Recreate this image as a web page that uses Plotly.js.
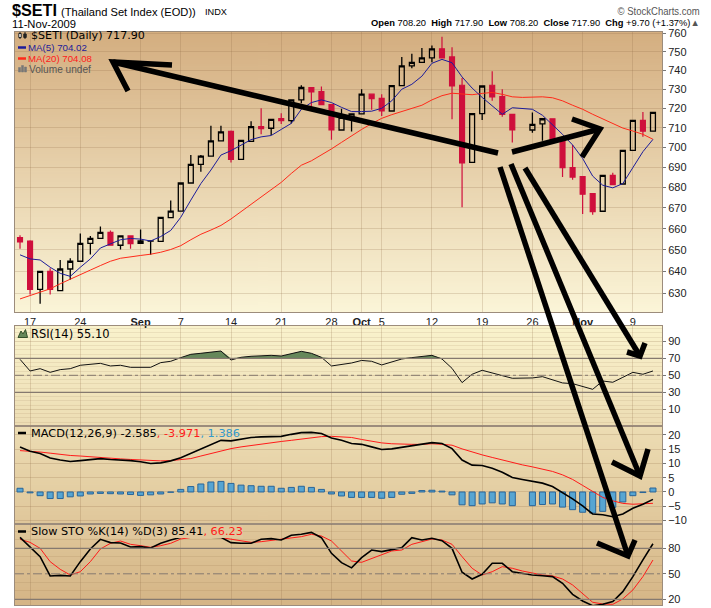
<!DOCTYPE html>
<html><head><meta charset="utf-8">
<script src="https://cdn.plot.ly/plotly-3.0.1.min.js"></script>
<style>html,body{margin:0;padding:0;background:#fff}#chart{width:711px;height:608px}</style>
</head><body><div id="chart"></div>
<script>
// ---------------- DATA ----------------
const dates = ["2009-08-14","2009-08-17","2009-08-18","2009-08-19","2009-08-20","2009-08-21","2009-08-24","2009-08-25","2009-08-26","2009-08-27","2009-08-28","2009-08-31","2009-09-01","2009-09-02","2009-09-03","2009-09-04","2009-09-07","2009-09-08","2009-09-09","2009-09-10","2009-09-11","2009-09-14","2009-09-15","2009-09-16","2009-09-17","2009-09-18","2009-09-21","2009-09-22","2009-09-23","2009-09-24","2009-09-25","2009-09-28","2009-09-29","2009-09-30","2009-10-01","2009-10-02","2009-10-05","2009-10-06","2009-10-07","2009-10-08","2009-10-09","2009-10-12","2009-10-13","2009-10-14","2009-10-15","2009-10-16","2009-10-19","2009-10-20","2009-10-21","2009-10-22","2009-10-23","2009-10-26","2009-10-27","2009-10-28","2009-10-29","2009-10-30","2009-11-02","2009-11-03","2009-11-04","2009-11-05","2009-11-06","2009-11-09","2009-11-10","2009-11-11"];

const open  = [655.8,654.2,631.7,640.0,631.2,641.1,644.7,653.1,655.4,658.3,652.2,656.6,653.1,654.2,654.0,665.3,668.5,682.2,691.4,695.6,703.3,708.1,693.9,703.0,710.5,709.7,714.7,713.6,724.4,730.9,728.8,721.9,708.8,715.3,717.1,727.4,725.2,718.6,731.9,742.4,744.3,746.7,751.6,747.2,732.1,692.4,717.2,732.1,726.1,716.9,null,708.8,712.0,714.6,703.9,689.8,685.4,677.0,668.4,686.0,681.7,698.5,713.8,708.2];
const high  = [656.9,654.5,640.2,641.4,645.3,646.1,657.8,656.6,661.1,659.2,656.6,656.6,659.7,654.3,665.5,673.6,682.2,696.1,696.1,711.0,711.0,708.6,703.5,713.3,720.0,714.3,717.4,724.4,732.1,730.9,731.4,721.9,719.8,717.1,730.0,727.4,727.4,731.9,747.2,749.0,752.1,753.4,758.2,752.5,736.0,717.2,731.7,739.5,730.0,716.9,null,717.8,714.6,714.6,703.9,701.2,685.4,677.0,686.0,687.3,698.5,713.8,718.1,717.9];
const low   = [650.5,629.4,625.2,629.4,631.2,636.2,644.7,647.8,655.1,652.2,650.2,650.5,653.1,647.7,654.0,665.0,668.5,682.2,687.8,695.6,703.3,692.4,693.9,703.0,706.7,706.2,711.9,712.2,722.6,720.9,721.9,703.9,708.8,708.1,717.1,719.3,716.0,718.6,731.9,741.2,744.3,744.3,746.7,714.3,670.3,692.4,713.9,723.9,715.6,702.5,null,707.4,703.3,703.9,685.1,683.8,667.1,666.7,668.4,681.4,681.7,698.5,705.4,708.2];
const close = [653.8,631.7,640.0,631.7,641.1,644.7,653.1,655.4,658.3,652.2,656.6,652.9,654.2,654.3,665.5,668.5,682.2,691.4,695.6,703.3,707.9,693.9,703.5,710.5,709.5,714.3,713.6,724.4,730.9,728.6,721.9,708.8,715.3,717.1,727.4,725.0,718.6,731.9,742.4,744.3,746.7,751.6,746.7,731.7,692.2,717.2,731.7,726.0,716.9,708.8,null,711.7,714.6,703.9,689.8,685.1,676.7,668.2,686.0,681.4,698.5,713.8,708.2,717.9];

const ma5  = [647.7,645.8,645.3,641.9,639.1,637.7,641.9,645.8,650.9,652.8,654.8,655.4,655.1,654.2,656.3,659.2,665.5,673.8,681.9,688.6,696.1,698.3,701.0,703.9,705.3,706.0,709.1,712.2,719.5,723.0,724.4,723.0,720.5,718.3,718.3,718.5,720.0,723.9,730.0,732.6,736.9,743.8,745.9,744.1,736.5,730.6,725.7,721.2,716.9,720.3,720.0,719.5,716.4,711.7,706.6,701.2,694.4,685.6,681.1,679.8,681.9,689.8,697.8,704.02];
const ma20 = [627.4,628.9,630.5,632.0,634.3,636.5,638.5,640.6,642.7,644.7,646.1,646.9,647.4,648.0,648.9,650.2,652.0,654.8,657.4,659.4,661.6,664.7,668.2,671.6,675.4,678.7,682.5,686.9,691.0,693.2,696.1,699.2,702.5,706.0,709.1,712.1,714.8,716.7,718.4,720.0,721.6,724.4,726.6,727.9,727.4,727.1,727.8,728.3,727.3,726.0,725.7,725.7,726.0,725.5,723.9,721.6,719.5,716.9,714.6,712.2,709.8,708.3,706.6,704.08];

const rsi = [68.8,55.1,57.8,53.5,56.7,57.8,61.8,62.9,64.1,61.0,61.8,59.4,59.4,59.4,64.9,66.5,70.8,74.7,75.9,77.1,78.6,68.0,71.2,72.4,72.7,73.5,72.7,75.9,78.2,75.9,71.2,61.0,62.9,64.5,67.5,66.5,62.2,66.1,69.2,70.8,72.0,73.5,69.2,58.2,41.4,51.2,55.9,53.1,49.6,46.5,46.5,46.9,48.4,44.5,41.0,40.2,36.7,33.5,43.3,41.8,47.6,53.5,51.2,55.10];

const macd   = [15.8,14.3,13.5,11.9,11.2,10.7,11.0,11.4,11.7,11.4,11.3,11.0,10.6,10.0,10.2,10.9,12.0,13.5,14.9,16.6,18.1,17.9,18.4,19.1,19.3,19.4,19.5,20.2,20.8,20.9,20.5,18.9,18.1,17.0,16.7,15.8,14.9,15.1,15.6,16.3,16.6,17.3,17.0,15.2,11.2,9.4,9.3,8.3,6.9,5.1,4.4,3.8,3.1,1.9,-0.2,-2.4,-4.9,-7.7,-8.0,-8.7,-7.7,-5.7,-4.3,-2.585];
const signal = [14.5,14.3,14.0,13.6,13.1,12.8,12.6,12.3,12.1,11.9,11.6,11.4,11.2,10.9,10.9,11.0,11.4,11.7,12.6,13.5,14.4,15.2,15.8,16.3,16.9,17.3,17.7,18.1,18.6,19.0,19.4,19.5,19.3,19.1,18.4,17.8,17.2,16.9,16.7,16.7,16.7,16.9,16.7,16.4,15.1,14.0,13.0,12.1,11.2,10.2,9.5,8.8,8.1,7.2,6.0,4.4,2.3,0.1,-1.9,-3.1,-4.0,-4.3,-4.2,-3.971];
const hist   = [1.3,-0.3,-1.3,-2.3,-2.3,-1.7,-1.4,-0.7,-0.5,-0.6,-0.7,-0.9,-1.2,-1.0,-0.7,-0.1,0.9,1.9,2.8,3.5,3.7,3.0,2.4,2.2,2.0,2.0,1.3,1.6,2.0,1.6,0.9,-0.7,-1.4,-1.9,-1.9,-1.9,-2.2,-1.9,-0.8,-0.5,0.5,0.6,0.3,-1.0,-4.5,-4.8,-4.2,-3.8,-4.2,-4.8,null,-4.8,-4.4,-4.2,-5.3,-6.2,-7.1,-7.4,-6.8,-5.4,-3.5,-1.3,-0.2,1.386];

const stoK = [92.9,82.0,70.2,47.5,48.2,47.5,64.3,79.2,90.6,86.7,86.3,81.6,82.0,80.4,85.9,89.8,93.0,96.0,95.0,93.0,92.9,86.7,85.9,85.9,90.6,91.4,89.8,95.3,96.5,98.8,92.5,74.1,63.1,57.0,69.0,78.0,76.1,78.8,80.8,92.5,89.8,91.8,89.0,80.0,51.8,43.9,49.4,62.4,62.4,52.5,50.6,48.6,47.8,46.7,38.8,25.9,18.0,12.5,14.1,17.3,29.0,46.7,66.3,85.41];
const stoD = [90.6,87.0,80.0,64.3,55.3,48.6,52.5,64.3,79.2,85.9,88.6,84.7,83.1,81.2,83.1,85.9,91.0,93.0,94.5,94.5,92.5,91.0,88.6,87.0,87.8,89.4,90.6,91.8,93.7,96.5,94.5,88.6,76.9,65.1,63.5,68.2,72.9,76.9,78.0,84.7,87.8,91.0,89.8,84.7,70.2,56.5,48.6,52.5,58.4,56.5,53.3,50.6,48.6,47.5,43.9,36.9,27.1,16.5,14.5,14.1,20.4,31.0,46.7,66.23];

const tickDates  = ["2009-08-17","2009-08-24","2009-09-01","2009-09-07","2009-09-14","2009-09-21","2009-09-28","2009-10-01","2009-10-05","2009-10-12","2009-10-19","2009-10-26","2009-11-02","2009-11-09"];
const tickLabels = ["17","24","<b>Sep</b>","7","14","21","28","<b>Oct</b>","5","12","19","26","<b>Nov</b>","9"];
const priceTicks = [630,640,650,660,670,680,690,700,710,720,730,740,750,760];
const rsiLevels = [30,70], rsiMid = 50;
const stoLevels = [20,80], stoMid = 50;

// ---------------- GEOMETRY / STYLE ----------------
const W=711,H=608,ML=15,MR=49,MT=32,MB=3;
const PW=W-ML-MR, PH=H-MT-MB;
const px=v=>(v-ML)/PW, py=v=>(H-MB-v)/PH;
const dMain=[py(312),1], dRsi=[py(425.5),py(325.7)], dMacd=[py(523.5),py(425.5)], dSto=[0,py(523.5)];

const ctx=document.createElement('canvas').getContext('2d');
const FA="'Liberation Sans',Arial,sans-serif";
const FV="'DejaVu Sans',Verdana,sans-serif";
function tw(segs,size,family){let w=0;segs.forEach(s=>{ctx.font=(s[1]?'bold ':'')+size+'px '+family;w+=ctx.measureText(s[0]).width;});return w;}
function fit(t,target,family){return 20*target/tw(Array.isArray(t)?t:[[t,0]],20,family);}

const gridC='rgba(140,105,70,0.22)', frameC='#9c8c7c', tickFont={family:FA,size:11,color:'#222'};
function grad(c1,c2){const cv=document.createElement('canvas');cv.width=4;cv.height=256;const g=cv.getContext('2d');const lg=g.createLinearGradient(0,0,0,256);lg.addColorStop(0,c1);lg.addColorStop(1,c2);g.fillStyle=lg;g.fillRect(0,0,4,256);return cv.toDataURL();}

const xBase={type:'category',categoryorder:'array',categoryarray:dates,range:[-0.5,63.9],tickmode:'array',tickvals:tickDates,ticktext:tickLabels,showgrid:true,gridcolor:gridC,showline:true,mirror:true,linecolor:frameC,ticks:'',zeroline:false,fixedrange:true,rangeslider:{visible:false}};
const yBase={side:'right',showline:true,mirror:true,linecolor:frameC,ticks:'outside',ticklen:3,tickcolor:'#777',tickfont:tickFont,zeroline:false,fixedrange:true,showgrid:true,gridcolor:gridC};

const traces=[
 {type:'candlestick',x:dates,open:open,high:high,low:low,close:close,xaxis:'x',yaxis:'y',whiskerwidth:0,
  increasing:{line:{color:'#000',width:1.3},fillcolor:'rgba(0,0,0,0)'},
  decreasing:{line:{color:'#cf0f3c',width:1.2},fillcolor:'#cf0f3c'},hoverinfo:'skip'},
 {type:'scatter',mode:'lines',x:dates,y:ma20,xaxis:'x',yaxis:'y',line:{color:'#ff2a1a',width:1}},
 {type:'scatter',mode:'lines',x:dates,y:ma5,xaxis:'x',yaxis:'y',line:{color:'#1c1c9a',width:1}},
 {type:'scatter',mode:'lines',x:dates,y:dates.map(()=>rsiLevels[1]),xaxis:'x2',yaxis:'y2',line:{width:0},hoverinfo:'skip'},
 {type:'scatter',mode:'lines',x:dates,y:rsi.map(v=>Math.max(v,rsiLevels[1])),xaxis:'x2',yaxis:'y2',fill:'tonexty',fillcolor:'#66885a',line:{width:0},hoverinfo:'skip'},
 {type:'scatter',mode:'lines',x:dates,y:rsi,xaxis:'x2',yaxis:'y2',line:{color:'#111',width:1}},
 {type:'bar',x:dates,y:hist,xaxis:'x3',yaxis:'y3',width:0.6,marker:{color:'#57a5d2',line:{color:'#2a6598',width:1}}},
 {type:'scatter',mode:'lines',x:dates,y:signal,xaxis:'x3',yaxis:'y3',line:{color:'#ff1a1a',width:1}},
 {type:'scatter',mode:'lines',x:dates,y:macd,xaxis:'x3',yaxis:'y3',line:{color:'#000',width:1.6}},
 {type:'scatter',mode:'lines',x:dates,y:stoD,xaxis:'x4',yaxis:'y4',line:{color:'#ff1a1a',width:1}},
 {type:'scatter',mode:'lines',x:dates,y:stoK,xaxis:'x4',yaxis:'y4',line:{color:'#000',width:1.6}}
];

// hand-drawn arrows on the picture (pixel coordinates of the strokes)
const strokes=[
 [[498,153],[113,62]], [[172,65],[113,62],[128,91]],
 [[512,152],[600,129]], [[572,119],[600,129],[582,157]],
 [[500,167],[628,556]], [[597,543],[628,556],[635,540]],
 [[511,164],[640,476]], [[612,462],[640,476],[648,449]],
 [[525,168],[640,356]], [[627,352],[640,356],[645,343]]
];
const shapes=[];
rsiLevels.forEach(v=>shapes.push({type:'line',xref:'x2 domain',yref:'y2',x0:0,x1:1,y0:v,y1:v,line:{color:'#85796f',width:1.3}}));
shapes.push({type:'line',xref:'x2 domain',yref:'y2',x0:0,x1:1,y0:rsiMid,y1:rsiMid,line:{color:'#85796f',width:1,dash:'dashdot'}});
stoLevels.forEach(v=>shapes.push({type:'line',xref:'x4 domain',yref:'y4',x0:0,x1:1,y0:v,y1:v,line:{color:'#85796f',width:1.3}}));
shapes.push({type:'line',xref:'x4 domain',yref:'y4',x0:0,x1:1,y0:stoMid,y1:stoMid,line:{color:'#85796f',width:1,dash:'dashdot'}});
const sw=(x0,x1,y,c)=>shapes.push({type:'line',xref:'paper',yref:'paper',x0:px(x0),x1:px(x1),y0:py(y),y1:py(y),line:{color:c,width:2.5}});
sw(18,26,47.5,'#1c1c9a'); sw(18,26,58.5,'#ff2a1a'); sw(18,26,433,'#000'); sw(18,26,531.5,'#000');
const pth=(pts,close,fill,lc,lw)=>shapes.push({type:'path',xref:'paper',yref:'paper',path:pts.map((p,i)=>(i?'L':'M')+px(p[0])+','+py(p[1])).join(' ')+(close?' Z':''),fillcolor:fill||'rgba(0,0,0,0)',line:{color:lc,width:lw}});
pth([[18,337.5],[21,331],[23,334],[25.5,329.5],[27.5,337.5]],true,'#66885a','#34502a',1);
pth([[20,32],[20,39]],false,null,'#222',1); pth([[18.8,33.5],[21.2,33.5],[21.2,37.5],[18.8,37.5]],true,'#fff','#222',1);
pth([[25,32],[25,39]],false,null,'#222',1); pth([[23.8,34],[26.2,34],[26.2,37.5],[23.8,37.5]],true,'#222','#222',1);
pth([[18.5,72],[18.5,67.5],[20.5,67.5],[20.5,72]],true,'#777','#777',0.5);
pth([[21.5,72],[21.5,65.5],[23.5,65.5],[23.5,72]],true,'#777','#777',0.5);
pth([[24.5,72],[24.5,67],[26.5,67],[26.5,72]],true,'#777','#777',0.5);
strokes.forEach(s=>shapes.push({type:'path',xref:'paper',yref:'paper',layer:'above',path:s.map((p,i)=>(i?'L':'M')+px(p[0])+','+py(p[1])).join(' '),line:{color:'#000',width:5.5}}));

const A=(text,x,y,size,family,color,anchor,extra)=>Object.assign({text:text,x:px(x),y:py(y),xref:'paper',yref:'paper',xanchor:anchor||'left',yanchor:'middle',showarrow:false,borderpad:0,borderwidth:0,font:{size:size,family:family,color:color||'#000'}},extra||{});
const S='\u00a0 ';
const ohlcSegs=[['Open',1],[' 708.20'+S,0],['High',1],[' 717.90'+S,0],['Low',1],[' 708.20'+S,0],['Close',1],[' 717.90'+S,0],['Chg',1],[' +9.70 (+1.37%)\u25B2',0]];
const ohlcText=ohlcSegs.map(s=>s[1]?'<b>'+s[0]+'</b>':s[0]).join('').replace('\u25B2','<span style="color:#555">\u25B2</span>');
const stoText='Slow STO %K(14) %D(3) 85.41<span style="color:#ff1a1a">, 66.23</span>';
const macdText='MACD(12,26,9) -2.585<span style="color:#ff1a1a">, -3.971</span><span style="color:#3399cc">, 1.386</span>';
const annotations=[
 A('<b>$SETI</b>',12,10,16.5,FA),
 A('(Thailand Set Index (EOD))',61,12,fit('(Thailand Set Index (EOD))',135,FA),FA),
 A('INDX',205,12,fit('INDX',22,FA),FA),
 A('11-Nov-2009',12,23.5,fit('11-Nov-2009',64,FA),FA),
 A(ohlcText,700,22.5,fit(ohlcSegs,329,FA),FA,'#000','right'),
 A('\u00a9 StockCharts.com',700,10.5,10.5,FA,'#555','right'),
 A('$SETI (Daily) 717.90',30.5,35.3,fit('$SETI (Daily) 717.90',114,FV),FV),
 A('MA(5) 704.02',28,47.5,fit('MA(5) 704.02',59,FA),FA,'#1c1c9a'),
 A('MA(20) 704.08',28,58.5,fit('MA(20) 704.08',64,FA),FA,'#ff1a1a'),
 A('Volume undef',28.5,69,fit('Volume undef',62,FA),FA,'#555'),
 A('RSI(14) 55.10',30.5,333.5,fit('RSI(14) 55.10',78.6,FV),FV),
 A(macdText,30.5,433,fit('MACD(12,26,9) -2.585, -3.971, 1.386',209,FV),FV),
 A(stoText,30.5,531.5,fit('Slow STO %K(14) %D(3) 85.41, 66.23',212,FV),FV,'#000','left',{bgcolor:'#e0c79c'})
];
// single-piece header texts given a narrow-font look: [annotation index, target width px, kept edge]
const condensed=[[0,45,'left'],[5,82,'right']];

const layout={
 width:W,height:H,margin:{l:ML,r:MR,t:MT,b:MB,pad:0},paper_bgcolor:'#fff',plot_bgcolor:'rgba(0,0,0,0)',
 showlegend:false,hovermode:false,font:{family:FA,size:11,color:'#222'},
 xaxis:Object.assign({},xBase,{anchor:'y',tickfont:tickFont,showticklabels:true}),
 xaxis2:Object.assign({},xBase,{anchor:'y2',matches:'x',showticklabels:false}),
 xaxis3:Object.assign({},xBase,{anchor:'y3',matches:'x',showticklabels:false}),
 xaxis4:Object.assign({},xBase,{anchor:'y4',matches:'x',showticklabels:false}),
 yaxis:Object.assign({},yBase,{type:'log',domain:dMain,anchor:'x',range:[Math.log10(621.5),Math.log10(760.8)],tickmode:'array',tickvals:priceTicks,ticktext:priceTicks.map(String)}),
 yaxis2:Object.assign({},yBase,{domain:dRsi,anchor:'x2',range:[-9.1,108.4],tick0:10,dtick:20,minor:{dtick:5,showgrid:true,gridcolor:'rgba(140,105,70,0.12)'}}),
 yaxis3:Object.assign({},yBase,{domain:dMacd,anchor:'x3',range:[-11.05,23.3],tick0:0,dtick:5}),
 yaxis4:Object.assign({},yBase,{domain:dSto,anchor:'x4',range:[13.3,109.2],tick0:20,dtick:30,showgrid:false,minor:{dtick:10,showgrid:true,gridcolor:'rgba(140,105,70,0.15)'}}),
 images:[
  {source:grad('#d4ae80','#fbf5d8'),xref:'paper',yref:'paper',x:0,y:1,sizex:1,sizey:1-dMain[0],sizing:'stretch',xanchor:'left',yanchor:'top',layer:'below'},
  {source:grad('#faf3cd','#d5b586'),xref:'paper',yref:'paper',x:0,y:dRsi[1],sizex:1,sizey:dRsi[1],sizing:'stretch',xanchor:'left',yanchor:'top',layer:'below'}
 ],
 shapes:shapes,annotations:annotations
};
Plotly.newPlot('chart',traces,layout,{staticPlot:true,displayModeBar:false}).then(gd=>{
  condensed.forEach(c=>{
    const t=gd.querySelector('.annotation[data-index="'+c[0]+'"] text.annotation-text');
    if(!t) return;
    const r0=t.getBoundingClientRect();
    if(r0.width<=c[1]+0.5) return;
    t.setAttribute('textLength',c[1].toFixed(2)); t.setAttribute('lengthAdjust','spacingAndGlyphs');
    const r1=t.getBoundingClientRect();
    const dx=c[2]==='right'?(r0.right-r1.right):(r0.left-r1.left);
    t.setAttribute('transform','translate('+dx.toFixed(2)+',0)');
  });
});
</script></body></html>
